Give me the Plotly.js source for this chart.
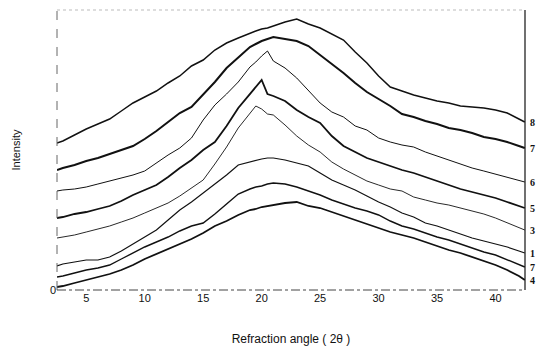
<!DOCTYPE html>
<html>
<head>
<meta charset="utf-8">
<script src="https://cdn.plot.ly/plotly-3.0.1.min.js"></script>
<style>html,body{margin:0;padding:0;background:#fff;}#chart{width:536px;height:346px;}</style>
</head>
<body>
<div id="chart"></div>
<script>
// Refraction angle (2θ) sample positions
const angle = [2.5,3,4,5,6,7,8,9,10,11,12,13,14,15,16,17,18,19,19.5,20,20.5,21,22,23,24,25,26,27,28,29,30,31,32,33,34,35,36,37,38,39,40,41,42,42.5];

// Curve labels (top to bottom, as printed at right)
const labels = ["8","7","6","5","3","1","7","4"];

// Intensity values (arbitrary units, offset stacked curves)
const s8 = [147,149,155,161,166,171,179,187,193,199,207,214,224,230,240,247,252,257,259,261,262,264,268,271,266,262,256,250,238,227,214,203,199,195,192,189,187,184,183,182,180,177,171,168];
const s7 = [120,122,125,129,132,136,140,144,151,159,168,177,183,195,208,222,233,243,246,249,251,253,251,249,244,235,226,217,207,198,191,184,176,173,169,166,162,160,157,153,151,148,144,142];
const s6 = [99,100,101,103,106,109,112,115,119,127,135,142,152,170,185,196,208,223,228,234,239,229,222,212,199,187,178,173,164,160,152,148,145,143,138,134,130,126,122,119,116,113,110,108];
const s5 = [72,73,76,78,81,84,89,95,100,105,113,122,130,140,148,164,182,196,204,210,196,194,189,180,173,167,154,144,138,132,128,124,120,117,113,109,105,101,98,95,92,88,84,82];
const s3 = [52,53,55,58,61,64,68,72,77,82,87,94,102,110,126,143,162,177,184,181,176,175,165,154,145,138,128,121,115,109,105,101,99,93,90,87,85,82,79,76,72,67,62,60];
const s1 = [24,26,28,30,30,33,39,46,53,60,70,80,88,97,106,115,125,128,130,131,132,132,130,127,124,117,110,105,100,94,88,83,77,73,67,64,60,56,52,49,46,43,39,37];
const s2 = [13,14,17,20,22,25,31,37,43,48,53,59,64,67,76,86,96,101,103,104,106,107,106,103,99,95,90,86,82,79,75,69,64,61,57,53,50,46,42,38,35,30,25,23];
const s4 = [3,4,7,10,13,16,20,25,31,36,41,46,51,57,64,69,75,80,81,83,84,85,87,88,84,82,78,74,70,66,62,58,55,52,48,44,40,37,33,29,25,20,14,10];

const series = [s8,s7,s6,s5,s3,s1,s2,s4];
const widths = [1.5,2.0,1.0,1.8,0.9,1.2,1.4,1.8];

const traces = series.map((ys,i)=>({
  x: angle, y: ys, type:'scatter', mode:'lines',
  line:{color:'#111', width:widths[i], shape:'linear'},
  hoverinfo:'skip', showlegend:false
}));

const annotations = series.map((ys,i)=>({
  x: angle[angle.length-1], y: ys[ys.length-1], xref:'x', yref:'y',
  text: labels[i], showarrow:false, xanchor:'left', yanchor:'middle', xshift:3,
  font:{family:'Liberation Serif, serif', size:10, color:'#111', weight:'bold'}
}));

const layout = {
  width:536, height:346,
  margin:{l:57, r:11, t:10, b:56},
  paper_bgcolor:'#fff', plot_bgcolor:'#fff',
  showlegend:false,
  xaxis:{
    range:[2.5,42.52], tickvals:[5,10,15,20,25,30,35,40], ticks:'',
    showgrid:false, zeroline:false, showline:false,
    tickfont:{family:'Liberation Sans, Arial, sans-serif', size:11, color:'#111'},
    title:{text:'Refraction angle ( 2θ )', standoff:32,
      font:{family:'Liberation Sans, Arial, sans-serif', size:12, color:'#111'}}
  },
  yaxis:{
    range:[0,280], tickvals:[0], ticktext:['0'], ticks:'',
    showgrid:false, zeroline:false, showline:false,
    tickfont:{family:'Liberation Sans, Arial, sans-serif', size:11, color:'#111'},
    title:{text:'Intensity', standoff:27,
      font:{family:'Liberation Sans, Arial, sans-serif', size:11, color:'#111'}}
  },
  shapes:[
    {type:'line', xref:'paper', yref:'paper', x0:1, x1:1, y0:0, y1:1, line:{color:'#111', width:1.2}},
    {type:'line', xref:'paper', yref:'paper', x0:0, x1:0, y0:0, y1:1, line:{color:'#666', width:1, dash:'dash'}},
    {type:'line', xref:'paper', yref:'paper', x0:0, x1:1, y0:1, y1:1, line:{color:'#bbb', width:1, dash:'dot'}},
    {type:'line', xref:'paper', yref:'paper', x0:0, x1:1, y0:0, y1:0, line:{color:'#444', width:1, dash:'dashdot'}}
  ],
  annotations: annotations
};

Plotly.newPlot('chart', traces, layout, {staticPlot:true, displayModeBar:false});
</script>
</body>
</html>
